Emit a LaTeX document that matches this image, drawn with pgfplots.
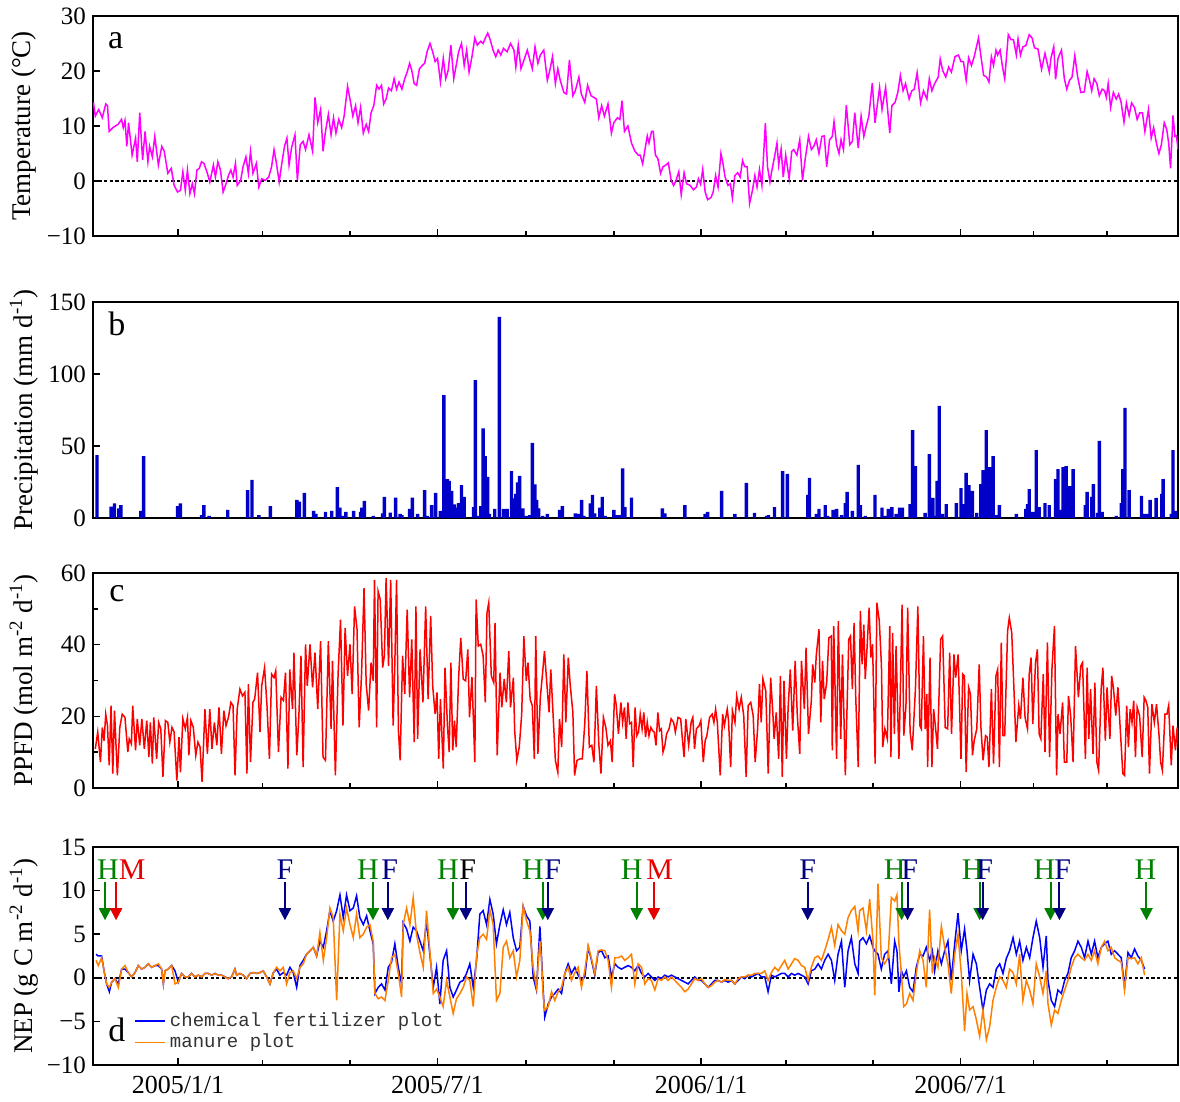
\documentclass[border=0pt]{standalone}
\usepackage{fontspec}
\setmainfont{Liberation Serif}
\setmonofont{Liberation Mono}
\usepackage{pgfplots}
\pgfplotsset{compat=1.18}
\usepackage{pgfplotstable}
\usetikzlibrary{arrows.meta}

\definecolor{tmag}{RGB}{255,0,255}
\definecolor{pblue}{RGB}{0,0,200}
\definecolor{pred}{RGB}{255,0,0}
\definecolor{nblue}{RGB}{0,0,255}
\definecolor{norange}{RGB}{255,128,0}
\definecolor{hgreen}{RGB}{0,128,0}
\definecolor{mred}{RGB}{230,0,0}
\definecolor{fnavy}{RGB}{0,0,128}

\pgfplotstableread{
d v
-59 14.3
-57.7 11.8
-55.3 13
-52.8 11.5
-50.4 14
-49.2 13.7
-48 9
-45.5 9.7
-41.8 10.3
-39.4 11.2
-38.2 9.7
-37 11
-35.7 6.3
-34.5 10.6
-32 4.7
-29.6 7.8
-28.4 3.5
-26.7 12.4
-24.7 3.8
-23 9
-21 3.5
-19.8 6.3
-17.9 4.4
-16.2 8.1
-13.7 2.9
-11.3 6.3
-9.6 5.4
-7.1 1.4
-4.7 2.3
-2.7 -0.8
-0.3 -2
1.7 -1.7
3.4 1.7
5.1 -1.7
6.6 2
8.3 -2.3
10 -0.5
11.5 -2.3
13.2 2
14.9 2.3
16.4 3.5
18.1 3.2
20.5 1.4
22.2 -0.2
24.7 2.9
26.1 0.7
27.8 3.5
29.6 2
31.5 -2
33.5 -0.5
35.2 1
36.9 2
38.4 0.7
40.1 3.2
41.3 -0.8
43.7 0.1
45.4 2.6
47.4 4.4
49.1 1.4
50.6 5.4
52.3 1.4
54.7 3.2
56.4 -1.1
58.4 0.4
60.8 0.1
63.3 0.7
65.3 2.6
67 5.7
68.7 3.2
70.6 -0.2
72.6 3.5
74.3 6.3
76 7.8
77.5 2.9
79.2 6
81.6 8.4
83.3 0.1
85.3 6.6
87.3 7.2
89 5.7
91.4 8.4
93.9 5.4
95.6 15.2
97.5 10.6
99.5 13
101.2 5.4
102.9 9
104.9 12.1
106.8 8.4
108.5 11.5
110.2 8.7
112.2 11.2
114.2 9.7
115.9 11.8
118.3 17.2
120 14.9
122 11.8
123.9 13.7
125.6 10.6
127.4 13.4
129.3 8.7
131.3 10.3
133 9
134.7 12.4
136.6 13.7
138.6 17.4
140.3 16.7
142 17.4
143.5 14
145.2 14.9
146.9 16.9
148.9 16.4
150.8 18.6
152.5 16.7
154.2 18
156.2 16.7
158.2 18.6
159.9 19.8
161.6 21.4
163.1 20.1
164.8 17.7
166.5 17.4
168.4 20.4
170.4 21
172.1 21.4
173.8 23.5
175.8 25
177.7 23.5
179.4 21.7
181.1 22.3
183.1 18
185.1 22.3
186.8 18.6
188.5 20.1
190.4 24.7
192.4 18.6
194.1 21
195.8 23.5
197.8 25
199.7 21
201.4 23.8
203.1 19.8
205.1 22.6
207.1 26
208.8 24.7
211.2 25.4
212.9 25
214.4 26
216.1 26.9
217.8 25.7
219.8 23.8
221.7 22.6
223.4 23.8
225.2 22.9
227.1 24.1
229.6 23.5
232 25
234.4 23.8
235.7 20.7
237.4 24.7
239.3 20.4
241.8 22.3
243.7 23.8
245.5 22
247.2 20.4
249.1 24.4
251.1 21.4
252.8 22.9
255.2 23.8
257.7 18.3
259.4 20.1
261.3 22.6
263.3 17.7
265 20.4
266.7 18.3
269.2 16.1
271.1 15.8
273.1 22
275.5 15.5
277.2 16.4
279.7 18.9
281.4 15.8
283.8 14.3
285.8 17.4
288.2 15.5
290.2 15.2
291.9 14.9
293.6 11.5
295.6 13.7
297.5 11.8
300 14
302.4 8.7
304.1 10.6
306.6 11.5
308.3 11.2
309.8 14.6
311.5 9
313.9 10
316.4 6.9
318.8 5.4
321.2 4.7
322.5 4.7
324.2 3.1
326.2 6.3
327.4 8.2
328.6 6.9
330.4 9
331.6 9
333.1 4.7
334.8 4.1
336.7 1.4
338.4 2.6
340.4 2.9
342.1 3.3
344.1 0.1
345.8 -0.8
347.5 0.1
349.4 1.7
351.1 -2.5
353.1 1.5
354.8 -0.5
357.3 -0.8
359.7 -1.6
361.7 -1.1
363.1 0.4
364.6 -0.6
366.1 2.1
367.8 -2
369.5 -3.4
371.9 -3
373.4 -2
375.1 1
376.8 -1.1
378.8 5
380.2 3.2
381.7 0.7
383.7 -0.8
385.4 -0.5
386.8 -3.1
388.5 1
390.5 1.5
392.2 0.7
393.9 3.7
395.4 2.6
397.1 2.6
398.8 -4.1
400.8 -1.7
402.5 1
404 -1.1
405.7 2.1
407.4 -0.8
409.8 10.5
411.3 2.6
413 -0.2
414.2 1.7
416.2 4.4
417.9 6.9
419.1 2.9
420.8 5.8
422.3 0.7
424 4.7
426.4 0.4
428.2 5.4
429.6 5.7
431.8 4.7
433.8 7.5
435.7 0.1
437.5 3.8
439.9 8.1
441.9 5.7
443.6 6.3
445.3 7.5
447.2 5
449.2 8.1
450.9 8.2
452.6 2.6
454.6 7.5
456.5 8.1
457.7 10.8
459.5 6.6
461.2 5
462.6 7.5
464.3 5.7
466.3 13.8
468.7 6.6
470.5 7.2
472.2 12.4
474.6 6
476.6 11.8
478.5 8.1
480.2 10
482 11.8
484.4 17.8
486.3 10.6
489.5 17
491.2 13
493.7 17
496.6 8.7
498.1 13.7
500.3 14.3
502.2 16.1
504 19.2
505.9 16.4
507.6 17.7
510.1 14.9
512 16.4
513.7 16.7
515.7 19.7
518.1 14.2
520.1 16.4
522.5 14.9
524.2 18.6
526 16.4
527.9 17.7
530.4 18.9
531.8 22.2
533.5 20.1
535.7 18.9
537.7 20.7
539.6 19.8
542.1 22.6
544.5 22.9
546.3 21.7
548 21.7
549.9 18.3
551.6 22.4
553.6 21
555.5 22.6
558.5 26
560.4 22.3
562.1 19.2
564.1 18.9
565.8 18
567.5 22.6
569 21
570.7 23.8
571.9 22.9
573.6 23.8
575.1 21
576.8 18.6
579.3 26.6
581.2 25.7
582.9 25.7
584.9 22.9
586.1 25.8
587.8 22.9
589.5 24.4
591.5 24.6
593.9 26.6
595.9 26
597.6 24.2
600 24
602.5 20.3
604.9 23.2
606.2 21.7
607.9 19.8
609.1 22.4
611 24.4
612.3 18.5
614 22.3
616.4 23.8
618.4 18.6
620.1 16.7
622 18.3
623.8 18.9
625.7 22.8
627.7 18.9
629.9 16.1
632.3 16.2
634.3 19.9
636 18.3
637.5 16.4
639.2 18.6
641.1 17.7
642.8 15.5
644.8 16.7
646.5 16.4
647.7 15.2
649 17.7
650.7 13.4
652.6 16.1
654.6 14.9
656.3 15.8
658 14.3
660 10.7
661.7 14.2
663.6 11.9
665.3 14.2
667.3 13.4
669.2 11.2
671 12.4
672.9 12.4
674.6 9
677.1 13
679 7.8
680.7 9.7
682.7 6.8
684.4 5
686.1 6.6
688.1 10.6
689.8 9.4
691.2 6.9
692.5 2.3
694.2 11.9
695.6 8.1
696.6 8.2
697.8 5.7
}\temp

\pgfplotstableread{
d v
-56.5 43.7
-46.7 7.9
-44.3 10.2
-41.3 6.7
-39.9 9
-25.9 4.9
-24 43
-0.3 8.3
1.7 10.2
16.4 2
18.1 9
21.7 1.4
34.7 5.6
48.6 19.4
51.6 26.4
56.4 2
64.5 8.3
82.9 12.5
84.8 11.3
88.2 17.4
94.6 4.9
96.3 2.8
102.9 4.2
107.3 4.9
111.2 21.5
113 7.2
114.6 1.4
117.1 4.2
122.5 4.9
127.4 4.2
128.3 7.2
130 11.8
136.2 1.4
142.8 3.2
144 14.6
148.1 3.7
151.8 14.1
155 2.8
156.2 2
161.6 6.3
163.5 14.1
167.2 2.8
172.1 19.4
173.8 1.4
177 9
179.7 17.4
183.1 4.9
185.5 85.4
188 27
189.2 25.7
190.9 18.8
192.9 9.5
194.3 7.2
195.8 10.4
197.8 22.9
199.7 14.6
206.3 7.6
207.5 95.8
209.5 1.4
211.2 8.3
212.9 62.3
214.4 43
216.1 28.5
217.3 2.8
221 6.3
224.2 139.6
227.1 6.3
229.6 6.3
232.7 32.6
234.4 13.7
235.7 16.7
236.9 24.8
238.4 29.2
240.6 6.7
243 1.4
245.5 2
247.2 52.1
249.1 23.4
250.3 12.5
251.6 6.7
254.5 1.4
257.7 2.8
266.2 5.6
268.2 8.3
277.2 3.2
279.7 2.8
281.6 12.5
283.3 1.4
287.7 10.2
289.2 16
290.7 3.2
294.3 7.2
296 14.6
298 1.4
304.1 5.6
306.6 2
308.3 2
310.2 34.5
311.9 7.6
316.4 14.1
337.9 6.7
339.7 3.2
353.6 9
367.8 2.8
369.5 4.2
379.3 18.8
388.5 2.8
396.6 24.3
402.2 3.5
410.6 1.4
412 2
416.2 7.6
421.8 32.6
425.2 30.6
439.4 16
440.6 27.8
445.3 2.8
447.2 6.3
451.6 9
453.3 1.4
457 5.6
459.5 6.3
462.9 2
465.6 10.4
466.8 18.1
470.5 4.9
474.6 36.8
476.1 9
479.5 1.4
486.3 16
491.2 7.2
493.7 1.4
495.6 6.3
498.1 7.6
501 2.8
503.5 7.2
505.4 7.2
510.8 9.7
512.5 61.1
514.5 36.1
521.3 3.5
524.2 44.4
526.7 13.9
528.4 1.4
529.6 25.7
531.1 77.8
533.3 2.8
536 9.7
543.1 10.4
546.3 20.8
548 9.7
549.9 31.3
551.9 22.9
554.3 18.8
557.3 3.5
560.2 23.6
561.7 33.3
563.9 61.1
566.1 35.4
568.7 43
570.7 2
573.1 9
584.9 2.8
591.5 6.3
592.7 9.7
593.9 20.1
596.4 4.2
598.8 47.2
600.8 7.6
604.9 10.4
607.9 9
612.3 27
614 34
616 5.6
617.6 35.4
619.6 36.1
622 22.2
623.3 8.3
624.5 34
633.1 9
634.3 18.1
637.5 14.6
638.7 23.6
641.6 3.5
642.8 53.5
644.8 4.2
654.6 1.4
658.2 10.4
659.2 34
660.7 76.4
663.6 19.4
672.2 15.3
674.1 2.8
675.8 2.8
678.3 12.5
682.4 13.9
686.4 16.7
687.3 27
693 2.8
694.2 47.2
696.1 4.9
}\prec

\pgfplotstableread{
d v
-57.7 10.9
-56 15.6
-54.1 7.2
-52.8 16.9
-51.6 13.2
-50.4 20.6
-49.2 17.4
-48 6.3
-46.7 23
-45.5 4
-44.3 21.6
-42.3 3.5
-40.6 16.9
-38.9 20.6
-37 19.7
-35 10
-34 13.7
-32.5 12.3
-31.6 23
-29.6 10.5
-28.4 19.3
-26.7 11.9
-25.2 19.3
-23.5 10.9
-21.8 18.8
-20.3 8.6
-19.3 18.3
-17.9 6.8
-16.9 19.7
-14.9 8.1
-13.5 18.3
-12 16.5
-10.5 3.1
-8.8 18.8
-7.1 18.3
-5.7 12.8
-4.2 16.9
-2.7 15.6
-0.8 2.1
0.7 14.2
1.7 4.4
3.4 19.3
5.1 16.5
6.6 19.7
7.6 9.1
9 18.8
10.7 16.9
12.4 9.1
13.9 12.8
15.4 11.4
16.8 1.7
18.8 22
20.5 9.5
22.2 22
23.7 10.9
25.4 18.3
27.1 11.9
28.6 22.5
30.3 9.5
32 21.6
33.5 17.4
35.2 19.7
36.9 23.9
38.4 23
39.8 3.5
41.3 22
43.2 27.6
45 25.7
46.7 26.7
48.1 4
49.1 29
50.6 7.2
52.3 23.9
53.5 24.8
55.5 32.2
57.2 15.6
58.4 28.5
60.4 33.6
62.1 23
63.8 8.1
65.3 31.8
67 30.8
68.2 32.7
70.1 10
71.9 25.3
73.6 24.4
75 32.2
76.7 5.4
78 33.1
79.9 22
80.9 37.8
82.9 9.1
84.3 19.7
85.8 36.9
87.3 5.8
89 40.1
90.2 28.5
92.1 40.1
93.9 28.1
95.6 37.8
97.5 22
99.5 41
101.2 8.6
102.9 7.7
104.9 41
106.8 16.5
107.8 35.5
109.8 3.5
111.7 31.8
113.4 47
115.1 17.4
116.6 44.7
118.3 31.3
120 40.1
121.5 26.2
123.2 50.7
124.9 44.3
126.4 16.9
128.1 32.2
129.8 55.8
131.3 29
133 21.6
134.7 35
136.2 29.9
137.1 58.1
138.6 16.9
139.6 54.9
141.1 52.6
142.8 33.6
144 36.9
145.2 58.6
146.9 34.1
148.4 58.1
150.1 17.4
151.3 35
152.5 58.1
153.8 16
155 7.7
156.7 36.9
158.2 26.2
159.9 49.8
161.6 25.3
163.1 41.5
164.8 12.8
166 50.7
167.2 13.7
168.9 38.7
170.9 23.9
172.8 50.7
174.5 24.8
176.3 48
177.7 28.5
179.4 20.6
180.7 26.7
181.9 8.1
183.1 24.8
185.1 5.4
186.3 33.6
188 17.4
189.2 10
190.4 35
191.7 10.5
192.9 18.8
194.1 11.4
195.8 30.8
197.3 41.9
199 30.4
200.7 29.9
202.2 38.7
203.4 19.7
205.1 31
207.1 7.2
208 52.6
209.5 39.6
211.2 40.1
212.9 36.9
214.4 23.9
215.6 48.9
216.8 51.7
218.6 31.3
220.3 29.4
221.2 46.1
222.7 9.1
224.7 32.2
225.9 22.5
227.6 30.4
229.1 23.9
230.8 38.2
232 22.5
234 30.8
234.9 16
236.4 7.7
238.1 11.4
239.8 20.6
241.3 42.4
243 29.9
244.2 35
245.7 24.8
247.2 23
248.6 8.1
249.6 42.4
251.1 9.5
252.8 25.3
254 30.4
255.7 38.2
257.2 29.9
258.9 21.1
260.1 33.1
261.8 19.7
263.3 7.7
265 4.4
266.2 19.3
267.7 11.4
269.2 37.3
270.6 18.3
272.3 36.4
273.6 29
275.5 21.1
276.7 3.5
278.4 7.7
280.4 8.1
282.1 8.1
283.8 17.9
285.3 32.7
287 11.4
288.7 11.9
290.2 7.2
291.9 28.5
293.6 12.3
295.1 4
296.8 19.7
298.5 16.9
300 11.9
301.7 13.2
302.9 7.2
304.6 26.2
305.8 23
307.3 15.1
309 23.9
310.2 18.3
311.5 22.5
312.7 13.7
313.9 23.9
315.1 17.9
316.4 18.3
317.6 5.8
318.9 22.5
320.1 14.6
321.3 15.6
322.5 20.6
323.8 16.5
325 21.1
326.2 14.2
327.4 18.3
328.6 14.6
329.9 16.9
331.1 16
332.3 15.6
333.5 11.9
334.8 21.1
336 16
337.2 16.5
338.4 10
339.7 11.9
340.9 15.1
342.6 16.5
344.1 19.3
345.8 18.3
347 15.6
348.9 19.7
350.7 19.3
351.9 13.7
353.1 8.6
354.3 19.3
356.3 11.9
358 18.3
359.2 19.7
360.4 10.9
361.7 16.5
363.6 17.4
364.8 18.8
366.5 7.2
367.8 13.2
369 14.6
370.9 19.7
372.7 20.6
373.9 18.3
375.1 22
376.3 18.3
378.3 3.5
380 20.6
381.2 17.4
383.2 22
384.1 18.8
385.6 5.8
386.8 21.6
388.6 18.3
389.8 25.7
391.5 22
393 25.3
394.7 20.2
396.4 3.1
397.8 23
399.6 23.9
401.3 20.2
402.7 7.2
404.4 16.5
405.7 29
406.9 18.3
408.1 30.4
410.1 27.1
411.8 4
413.5 30.8
415 21.1
415.9 13.7
417.4 21.1
419.1 8.1
420.3 31.3
421.6 3.1
422.8 29.9
424.5 8.1
425.7 22.5
427.2 33.1
428.9 16
430.6 35.5
432.1 20.2
433.8 9.5
435 35.5
437 22
438.2 39.2
439.9 15.1
441.9 24.4
442.8 34.5
444.3 29.4
445.3 36.9
447.2 44.3
448.5 18.3
449.7 35.5
450.9 24.8
452.6 29.4
454.1 41.9
455.8 42.4
456.5 10.5
457.5 45.2
459.5 8.1
460.7 46.6
462.4 13.7
463.6 37.3
465.6 3.5
468 41.5
469.2 42.4
470.5 27.6
471.7 46.1
472.9 24.8
474.6 5.8
476.1 49.4
477.3 34.5
478.5 45.6
479.5 30.4
480.7 38.7
482.2 50.3
483.4 36.4
484.6 40.1
486.4 6.8
487.6 51.7
489.3 46.6
490.8 34.1
491.7 11.4
493.2 16.5
494.9 13.7
496.6 45.2
497.4 8.6
498.6 43.3
499.8 15.1
501 39.6
503 8.1
505.2 51.2
506.4 14.6
507.9 23
509.1 50.3
510.8 15.6
512.3 10.5
514.5 27.6
516.2 50.7
517.6 17.4
518.6 16.5
520.1 42.4
521.3 16.5
522.5 26.2
523 5.8
524.7 36.4
526 5.8
527.2 22
528.4 17.4
529.9 10.9
532.1 41.5
533.5 42.4
535.3 16.9
537 16.5
538.4 37.8
539.7 15.1
541.4 37.3
542.6 30.8
544.3 37.3
546.3 8.1
547.5 31.8
548.7 31.3
549.9 4.4
551.6 28.1
552.9 26.2
554.3 9.1
555.5 13.2
557.3 16.5
559 34.5
560.2 16.9
561.7 7.7
563.4 14.6
564.6 14.2
565.8 5.8
567.5 27.6
569 6.8
570.7 31.3
571.9 33.1
573.1 5.8
574.4 40.6
575.6 14.6
576.8 14.6
578.8 43.8
580 47.5
581.7 43.3
582.9 31.3
584.6 12.8
586.6 23
587.8 19.3
589.5 30.8
591 19.7
592.7 16.5
593.9 31.8
595.2 36.4
596.4 17.9
598.3 35
599.6 38.7
600.8 15.1
602 13.7
603.7 31.8
604.9 10
606.6 40.6
608.1 8.6
609.8 33.6
611.5 45.2
613 3.5
614 20.6
615.4 15.1
617.2 23.9
618.4 7.2
620.1 7.2
621.3 25.7
622.8 20.2
624.5 7.2
626.2 39.6
628.2 25.3
629.9 34.1
631.1 35
633.1 8.1
634.3 33.6
635.5 13.7
636.7 27.6
638.4 9.5
639.7 29.4
641.1 7.2
642.3 4.9
644.1 27.6
645.3 33.6
647 13.2
648.2 28.1
650.2 13.7
651.4 31.3
652.6 28.1
654.3 20.2
655.8 28.1
657 19.3
659.2 4
660.4 3.5
661.9 23
663.1 11.4
664.3 22
665.6 18.3
666.8 24.4
668 8.6
669.2 22.5
670.9 20.2
672.7 8.6
674.1 25.3
675.3 24.4
676.6 22.5
677.8 4
679.5 23.4
681.2 18.3
682.7 23.4
684.4 15.1
685.6 7.2
686.8 4.9
688.6 20.6
690 20.6
691.2 23
693 6.3
694.2 17.4
695.9 10.5
697.1 16.9
698.1 10.9
}\ppfd

\pgfplotstableread{
d b o
-57.2 2.7 2.0
-55.6 2.5 1.4
-53.3 2.5 2.3
-51.6 0.8 0.8
-49.8 -0.7 -0.7
-47.9 -1.6 -1.1
-46.3 -0.5 -0.5
-44 -0.1 -0.1
-41.6 -0.7 -1.1
-39.3 1 1
-37 1 1.4
-34.7 0.6 0.6
-32.3 0.1 0.1
-30 0.6 0.6
-27.7 1.4 1.4
-25.4 1 1
-23 1.2 1.2
-20.7 1.6 1.6
-18.4 1.2 1.2
-16.1 1.4 1.4
-13.7 1.4 1.6
-11.4 1 1
-10.2 -0.7 -0.7
-9.1 0.8 0.8
-6.8 1 1
-4.4 1.4 1.4
-2.1 0.8 -0.7
0.2 -0.5 -0.5
2.5 0.5 0.5
4.9 0.1 0.1
7.2 0.1 0.1
9.5 0.5 0.5
11.8 0.1 0.1
14.2 0.3 0.3
16.5 0.1 0.1
18.8 0.5 0.5
21.1 0.5 0.5
23.5 0.3 0.3
25.8 0.5 0.5
28.1 0.3 0.3
30.4 0.3 0.3
32.8 0.1 0.1
35.1 -0.1 -0.1
37.4 0.1 0.1
39.7 1 1
40.9 0.3 0.3
43.2 0.5 0.5
45.6 0.3 0.3
47.9 -0.1 -0.1
50.2 0.5 0.5
52.5 0.6 0.6
54.9 0.5 0.5
57.2 0.6 0.6
59.5 0.8 0.8
61.8 0.1 0.1
64.2 -0.7 -0.7
66.5 0.6 0.6
68.8 1 1.2
71.1 0.3 0.8
73.5 0.6 1.2
75.8 0.3 -0.7
78.1 1.2 0.6
80.4 0.6 0.8
82.8 -1.1 -0.1
85.1 1.4 1.2
87.4 2 1.6
89.7 2.7 2.7
92.1 3.1 3.1
94.4 3.5 3.5
96.7 2.5 2.5
99 4.2 5.2
101.4 3.5 2
103.7 5.4 4.6
106 7.7 8
108.3 6.5 6.9
110.7 7.7 -2.6
113 9.5 7.3
115.3 6.9 5.4
117.6 9.5 8
120 7.7 6.1
122.3 8 4.6
124.6 9.4 7.3
126.9 6.9 4.6
129.3 6.1 5
131.6 7.1 5.8
133.9 5.4 6.1
136.2 3.9 4.2
137.4 -1.8 -1.8
139.7 -1.1 -2.4
142 -0.7 -2.2
144.4 -1.4 -2.6
146.7 1.2 -0.3
149 1.8 2.3
151.3 3.9 2.7
153.7 1.2 0.5
156 -0.7 -2.2
157.1 6.3 6.1
159.5 5.6 8
161.8 4.2 6.1
164.1 5.8 9.2
166.4 5.4 5
168.8 4.2 2.9
171.1 3.1 1.2
173.4 6.5 7.7
175.7 2.7 3.1
178.1 -1.1 -1.8
180.4 1.2 -1.3
182.7 -3 -2.2
185 2 -3.3
187.4 3.1 -0.3
189.7 -1.1 -2.2
192 -2.2 -4.1
194.3 -1.4 -2.4
196.7 -0.5 -1.8
199 -0.3 -1.1
201.3 0.5 0.1
203.6 1.6 -0.3
206 -1.1 -3.3
208.3 2 2.5
210.6 7.3 4.6
212.9 7.7 5
215.3 6.1 4.4
217.6 9 7.8
219.9 7.3 6.1
222.2 3.9 -2.6
224.6 6.1 -1.8
226.9 7.8 3.5
229.2 6.1 4.2
231.5 7.5 2.3
233.9 4.6 3.1
236.2 3.1 0.1
238.5 3.5 2
240.8 8.2 8.2
243.2 7.1 6.5
245.5 6.5 5.4
247.8 0.1 1.2
250.1 -1.4 -1.1
252.5 5.9 4.2
253.6 2.5 2
254.8 -1.4 -2.2
255.9 -4.5 -3.7
258.3 -3 -3.3
260.6 -2.2 -1.6
262.9 -1.8 -2.6
265.2 -1.3 -1.6
267.6 -1.8 -1.1
269.9 0.5 0.5
272.2 1.6 1.2
274.5 0.5 -0.3
276.9 1.2 0.6
279.2 0.3 1.2
281.5 -0.3 -1.1
283.8 0.1 0.8
286.2 3.5 3.7
288.5 2 2.2
290.8 0.3 0.5
293.1 2.9 3.1
295.5 3.1 3.2
297.8 2.3 3.1
300.1 2.5 2
302.4 0.1 -1.1
304.8 1.6 2.3
307.1 1.2 2.3
309.4 1 2.5
311.7 1.2 2
314.1 1.4 2.3
316.4 1.2 2.7
318.7 0.8 -0.7
321 1.4 1.6
323.4 0.5 1.2
325.7 0.1 -0.7
328 0.5 -0.1
330.3 0.1 -0.3
332.7 -0.3 -1.4
335 0.1 -0.1
337.3 -0.1 -0.3
339.6 0.3 0.1
342 0.1 -0.3
344.3 0.3 0.1
346.6 0.1 -0.3
348.9 -0.1 -0.7
351.3 -0.3 -1.1
353.6 -0.5 -1.6
355.9 -0.7 -1.3
358.2 -0.3 -0.7
360.6 0.1 -0.1
362.9 -0.3 -0.3
365.2 -0.3 -0.1
367.5 -0.7 -0.7
369.9 -1.1 -1.1
372.2 -0.7 -0.9
374.5 -0.3 -0.5
376.8 -0.3 -0.3
379.2 -0.5 -0.5
381.5 -0.3 -0.2
383.8 -0.5 -0.3
386.1 -0.3 -0.3
388.5 -0.7 -0.7
390.8 -0.3 -0.1
393.1 0.1 0.1
395.4 -0.1 0.1
397.8 0.3 0.3
400.1 0.1 0.3
402.4 0.3 0.5
404.7 0.5 0.5
407.1 0.1 0.5
409.4 0.1 0.8
411.7 -1.6 -0.3
414 0.3 0.6
416.4 0.1 1.2
418.7 0.3 0.8
421 0.5 1.4
423.3 0.5 2
425.7 0.1 1
428 0.5 1.6
430.3 0.3 2.2
432.6 0.5 2
435 0.3 1.4
437.3 0.1 1.2
439.6 -0.7 -0.3
441.9 0.8 1.2
444.3 1 2.3
446.6 1.6 2.5
448.9 1 2
451.2 2 3.1
453.6 2.7 4.4
455.9 2 5.8
458.2 -0.3 3.7
460.5 2.7 6.1
462.9 4.2 5.4
465.2 -1.1 5
467.5 3.1 6.9
469.8 4.6 7.7
472.2 1.6 8.2
474.5 0.5 5.4
475.6 4.2 7.7
477.9 4.6 8
480.3 3.9 5.4
482.6 4.8 9
484.9 3.5 4.2
486.1 3.1 -2
488.4 2.7 10.8
490.7 1 2.3
493 2.7 1.6
495.4 3.1 2.3
497.7 -0.7 9.2
500 4.2 8.8
501.6 3.1 9.5
503 -1.6 3.9
504.7 0.8 0.5
506.3 0.1 -3.3
508.2 0.8 -3
510.5 -1.1 -1.8
512.8 -1.6 -2.6
515.1 1.2 0.5
517.5 2.7 3.1
519.8 2.5 2
522.1 3.5 -1.1
524.4 2 7.8
526.3 3.1 0.5
527.9 0.8 2.3
530.2 3.1 1.2
532.6 1.6 5.9
534.9 3.1 3.5
537.2 4.2 1.6
539.5 -0.3 -1.8
541.9 3.9 2.7
544.2 7.4 5
546.5 3.1 0.5
548.8 5.6 -6.1
550.5 3.1 -1.8
552.3 -0.3 -3.7
554.7 2.7 -3.3
557 1.6 -4.8
559.3 -1.1 -6.7
561.6 -3.7 -3.7
564 -1.4 -7.1
566.3 -0.7 -5.6
568.6 -1.1 -2.6
570.9 1 -1.1
573.3 1.6 0.1
575.6 0.5 -0.3
577.9 2.2 -1.1
580.2 3.1 1
582.6 4.6 0.6
584.9 2.7 -0.7
587.2 4.2 2.7
589.5 2 -2.6
591.9 3.5 -0.3
594.2 2.3 -1.4
596.5 4.6 -3
598.8 6.5 1.6
601.2 4.6 0.1
603.5 1.2 -1.8
605.8 4.8 0.8
607 -0.3 -3
609.3 -2.6 -5.4
611.6 -3.3 -3.7
613.9 -1.4 -4.1
616.3 -1.8 -2.6
618.6 -0.3 -1.4
620.9 0.5 -0.3
623.2 2.3 1.2
625.6 3.1 2.3
627.9 4.2 2.7
630.2 3.5 2.3
632.5 2.3 2
634.9 4.2 2.7
637.2 2.7 2
639.5 4.2 3.1
641.8 2.3 1.6
644.2 3.5 3.5
646.5 3.9 4.2
648.8 4.2 3.1
651.1 2.7 3.5
653.5 3.1 2.3
655.8 2.7 2
658.1 2.3 1.8
660.4 -1.1 -1.4
662.8 2.9 2.3
665.1 2.3 2.2
667.4 3.3 2.3
669.7 2.5 1.6
672.1 2 2.3
674.4 1 0.3
}\nep

\pgfplotsset{
  panel/.style={
    scale only axis, width=542.5pt, anchor=south west,
    xmin=-59.3, xmax=697.7,
    axis line style={line width=0.9pt},
    tick align=inside, tick pos=left,
    every tick/.style={black, line width=0.8pt},
    major tick length=3.5pt, minor tick length=2.3pt,
    xtick={0,181,365,546},
    minor xtick={59,120,243,304,424,485,597,648},
    xticklabels={{},{},{},{}},
    ticklabel style={font=\fontsize{12.5}{13}\selectfont},
    every axis y label/.style={at={(axis description cs:0,0.5)}, xshift=-34.5pt,
      rotate=90, anchor=center, font=\fontsize{13.5}{14}\selectfont},
  },
}
\tikzset{zl/.style={black, line width=0.8pt, dash pattern=on 1.6pt off 1.2pt}}
\newcommand{\arr}[2]{\draw[#1, line width=1pt, -{Triangle[width=6pt,length=6pt]}] (axis cs:#2,11) -- (axis cs:#2,6.6);}
\newcommand{\lab}[3]{\node[text=#1, font=\fontsize{15}{15}\selectfont, inner sep=0pt] at (axis cs:#2,12.4) {#3};}

\begin{document}
\begin{tikzpicture}
\path[use as bounding box] (0,0) rectangle (590pt,551pt);

% panel a
\begin{axis}[panel, at={(46.5pt,433pt)}, height=110pt,
  ymin=-10, ymax=30, ytick={-10,0,10,20,30}, yticklabels={−10,0,10,20,30},
  ylabel={Temperature (°C)}]
\draw[zl] (axis cs:-59.3,0) -- (axis cs:697.7,0);
\addplot[tmag, line width=0.75pt] table[x=d, y=v] {\temp};
\node[font=\fontsize{17}{17}\selectfont] at (axis description cs:0.021,0.89) {a};
\end{axis}

% panel b
\begin{axis}[panel, at={(46.5pt,292pt)}, height=108pt,
  ymin=0, ymax=150, ytick={0,50,100,150}, yticklabels={0,50,100,150},
  xtick=\empty, minor xtick={},
  ylabel={Precipitation (mm d\textsuperscript{-1})}]
\addplot[ybar, bar width=1.7pt, fill=pblue, draw=none] table[x=d, y=v] {\prec};
\node[font=\fontsize{17}{17}\selectfont] at (axis description cs:0.022,0.9) {b};
\end{axis}

% panel c
\begin{axis}[panel, at={(46.5pt,157pt)}, height=107.5pt,
  ymin=0, ymax=60, ytick={0,20,40,60}, yticklabels={0,20,40,60},
  minor ytick={10,30,50},
  ylabel={PPFD (mol m\textsuperscript{-2} d\textsuperscript{-1})}]
\addplot[pred, line width=0.75pt] table[x=d, y=v] {\ppfd};
\node[font=\fontsize{17}{17}\selectfont] at (axis description cs:0.022,0.905) {c};
\end{axis}

% panel d
\begin{axis}[panel, at={(46.5pt,18.5pt)}, height=109pt,
  ymin=-10, ymax=15, ytick={-10,-5,0,5,10,15}, yticklabels={−10,−5,0,5,10,15},
  xticklabels={2005/1/1,2005/7/1,2006/1/1,2006/7/1},
  xticklabel style={font=\fontsize{13}{13}\selectfont, yshift=-2pt},
  ylabel={NEP (g C m\textsuperscript{-2} d\textsuperscript{-1})},
  legend style={at={(axis description cs:0.036,0.035)}, anchor=south west,
    draw=none, fill=none, font=\ttfamily\fontsize{9.5}{10}\selectfont,
    text=black!80, row sep=-1.5pt, inner sep=1pt},
  legend cell align=left,
  legend image code/.code={\draw[#1] (0pt,0pt) -- (15pt,0pt);}]
\draw[zl] (axis cs:-59.3,0) -- (axis cs:697.7,0);
\addplot[nblue, line width=0.75pt] table[x=d, y=b] {\nep};
\addlegendentry{chemical fertilizer plot}
\addplot[norange, line width=0.75pt] table[x=d, y=o] {\nep};
\addlegendentry{manure plot}
\node[font=\fontsize{17}{17}\selectfont] at (axis description cs:0.022,0.16) {d};
\arr{hgreen}{-50.9}\arr{mred}{-43.2}
\arr{fnavy}{74.6}
\arr{hgreen}{136}\arr{fnavy}{146.4}
\arr{hgreen}{191.8}\arr{fnavy}{200.8}
\arr{hgreen}{254.5}\arr{fnavy}{258}
\arr{hgreen}{320}\arr{mred}{332}
\arr{fnavy}{439.3}
\arr{hgreen}{504.9}\arr{fnavy}{509}
\arr{hgreen}{559.3}\arr{fnavy}{561.4}
\arr{hgreen}{608.8}\arr{fnavy}{615}
\arr{hgreen}{675.7}
\lab{hgreen}{-48.8}{H}\lab{mred}{-32}{M}
\lab{fnavy}{74.6}{F}
\lab{hgreen}{132.5}{H}\lab{fnavy}{147.8}{F}
\lab{hgreen}{188.3}{H}\lab{black}{202.2}{F}
\lab{hgreen}{247.6}{H}\lab{fnavy}{261.5}{F}
\lab{hgreen}{316.6}{H}\lab{mred}{336.1}{M}
\lab{fnavy}{439.3}{F}
\lab{hgreen}{500}{H}\lab{fnavy}{510.5}{F}
\lab{hgreen}{554.4}{H}\lab{fnavy}{562.8}{F}
\lab{hgreen}{604.6}{H}\lab{fnavy}{617.2}{F}
\lab{hgreen}{675}{H}
\end{axis}
\end{tikzpicture}
\end{document}
